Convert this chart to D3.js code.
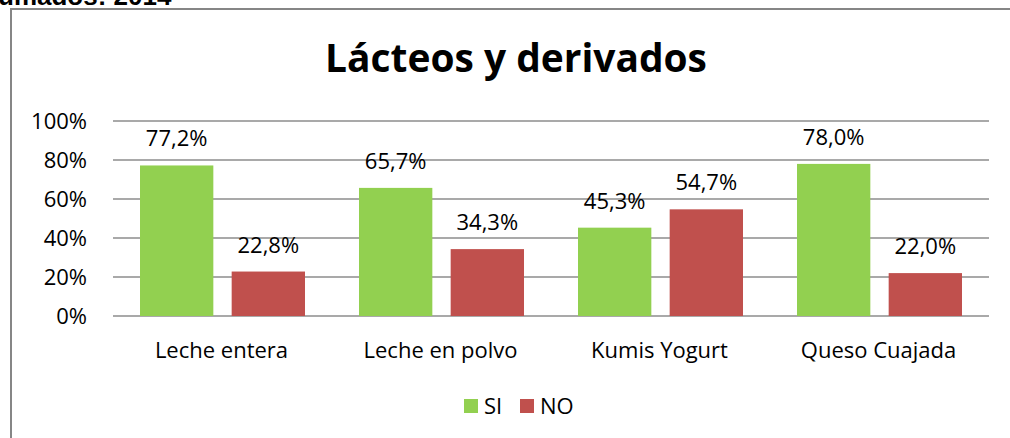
<!DOCTYPE html>
<html lang="es">
<head>
<meta charset="utf-8">
<title>Lácteos y derivados</title>
<script src="https://d3js.org/d3.v7.min.js"></script>
<style>
  body { margin: 0; background: #fff; }
  svg text { font-family: "Open Sans", sans-serif; fill: #000; }
</style>
</head>
<body>
<div id="chart"></div>
<script>
// data
var categories = ["Leche entera", "Leche en polvo", "Kumis Yogurt", "Queso Cuajada"]
var series = ["SI", "NO"]
var siValues = [77.2, 65.7, 45.3, 78.0]
var noValues = [22.8, 34.3, 54.7, 22.0]
var yTicks = [0, 20, 40, 60, 80, 100]
var colors = {SI: "#92D050", NO: "#C0504D"}

var W = 1010, H = 438
var plot = {left: 113, right: 989, top: 121, bottom: 316}

var svg = d3.select("#chart").append("svg")
  .attr("width", W).attr("height", H)

// size the body text so "Leche entera" is about as wide as in the original
var probe = svg.append("text").style("font-size", "20px").text("Leche entera")
var fs = 20 * 137 / probe.node().getComputedTextLength()
probe.remove()
fs = Math.min(fs, 22)

// cut-off heading of the page above the chart
svg.append("text")
  .attr("x", -2).attr("y", 5)
  .style("font-family", "'Liberation Sans', Arial, sans-serif")
  .style("font-weight", "bold")
  .style("font-size", "26px")
  .text("umados: 2014")

// chart frame
svg.append("rect")
  .attr("x", 11).attr("y", 9)
  .attr("width", W + 20).attr("height", H + 20)
  .attr("fill", "none")
  .attr("stroke", "#868686")
  .attr("stroke-width", 2)

// title
var title = svg.append("text")
  .attr("x", 516).attr("y", 72)
  .attr("text-anchor", "middle")
  .style("font-weight", "bold")
  .style("font-size", "40px")
  .text("Lácteos y derivados")
var tw = title.node().getComputedTextLength()
title.style("font-size", (40 * 382 / tw) + "px")

var y = d3.scaleLinear().domain([0, 100]).range([plot.bottom, plot.top])
var x0 = d3.scaleBand().domain(categories).range([plot.left, plot.right])
var x1 = d3.scaleBand().domain(series).range([27, 192]).paddingInner(0.2)

// gridlines
svg.append("g").selectAll("line")
  .data(yTicks)
  .join("line")
  .attr("x1", plot.left).attr("x2", plot.right)
  .attr("y1", d => y(d)).attr("y2", d => y(d))
  .attr("stroke", "#8c8c8c")
  .attr("stroke-width", 1.5)

// y tick labels
svg.append("g").selectAll("text")
  .data(yTicks)
  .join("text")
  .attr("x", 87)
  .attr("y", d => y(d))
  .attr("dy", "0.36em")
  .attr("text-anchor", "end")
  .style("font-size", fs + "px")
  .text(d => d + "%")

var rows = []
categories.forEach(function(c, i) {
  rows.push({cat: c, s: "SI", v: siValues[i]})
  rows.push({cat: c, s: "NO", v: noValues[i]})
})

var fmt = function(v) { return v.toFixed(1).replace(".", ",") + "%" }

svg.append("g").selectAll("rect")
  .data(rows)
  .join("rect")
  .attr("x", d => x0(d.cat) + x1(d.s))
  .attr("y", d => y(d.v))
  .attr("width", x1.bandwidth())
  .attr("height", d => y(0) - y(d.v))
  .attr("fill", d => colors[d.s])

svg.append("g").selectAll("text")
  .data(rows)
  .join("text")
  .attr("x", d => x0(d.cat) + x1(d.s) + x1.bandwidth() / 2)
  .attr("y", d => y(d.v) - 19)
  .attr("text-anchor", "middle")
  .style("font-size", fs + "px")
  .text(d => fmt(d.v))

// category labels
svg.append("g").selectAll("text")
  .data(categories)
  .join("text")
  .attr("x", d => x0(d) + x0.bandwidth() / 2 - 1)
  .attr("y", 358)
  .attr("text-anchor", "middle")
  .style("font-size", fs + "px")
  .text(d => d)

// legend
var legend = svg.append("g")
var lx = [464, 520]
series.forEach(function(s, i) {
  legend.append("rect")
    .attr("x", lx[i]).attr("y", 399)
    .attr("width", 14).attr("height", 14)
    .attr("fill", colors[s])
  legend.append("text")
    .attr("x", lx[i] + 20).attr("y", 414)
    .style("font-size", fs + "px")
    .text(s)
})
</script>
</body>
</html>
